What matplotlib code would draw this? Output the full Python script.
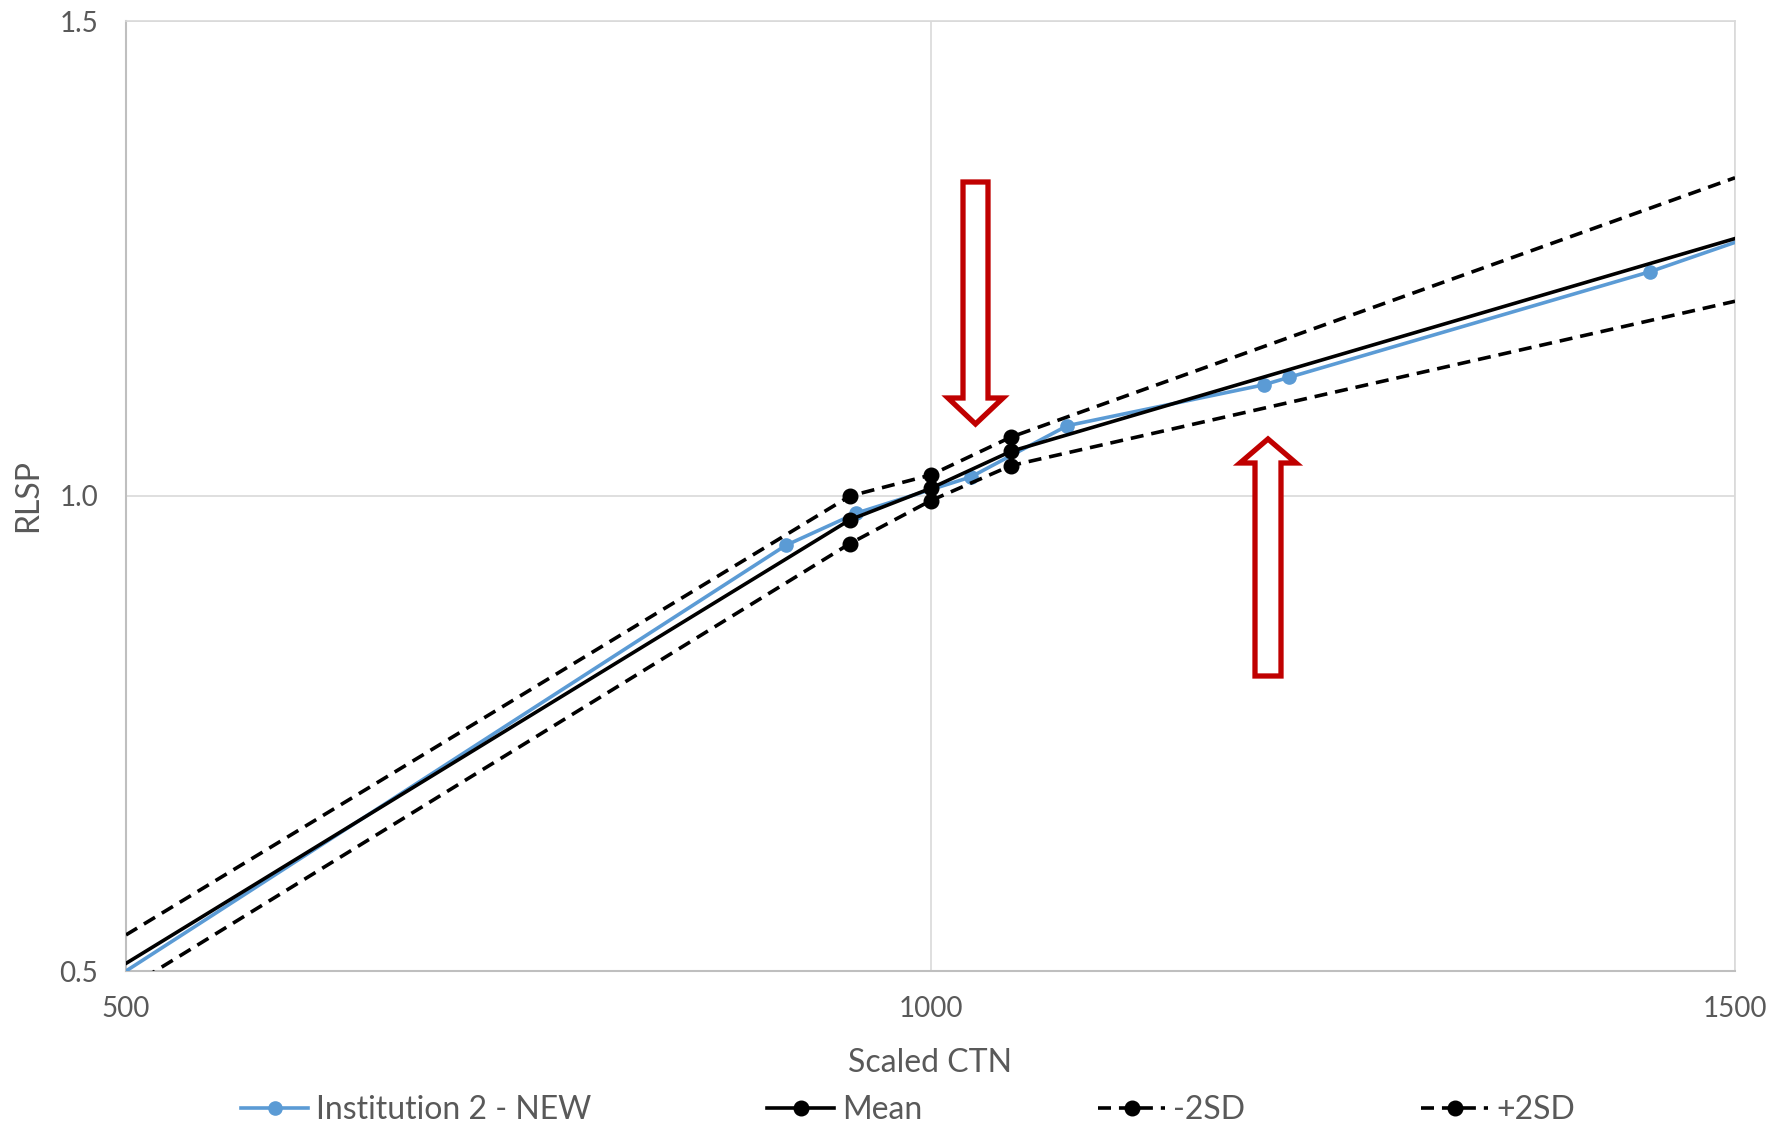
import matplotlib
matplotlib.use('Agg')
import matplotlib.pyplot as plt
from matplotlib.patches import Polygon

plt.rcParams['font.family'] = ['Lato', 'DejaVu Sans']

# data
inst_x = [500, 910, 954, 1025, 1085, 1207, 1223, 1447, 1500]
inst_y = [0.500, 0.948, 0.982, 1.020, 1.074, 1.117, 1.125, 1.236, 1.267]

ref_x = [500, 950, 1000, 1050, 1500]
mean_y = [0.508, 0.975, 1.008, 1.047, 1.271]
minus2sd_y = [0.481, 0.950, 0.995, 1.032, 1.205]
plus2sd_y = [0.538, 1.000, 1.022, 1.062, 1.335]

x_ticks = [500, 1000, 1500]
y_ticks = [0.5, 1.0, 1.5]
x_ticklabels = ['500', '1000', '1500']
y_ticklabels = ['0.5', '1.0', '1.5']

BLUE = '#5b9bd5'
BLACK = '#000000'
RED = '#c00000'
GRID = '#d9d9d9'
AXIS = '#bfbfbf'
TXT = '#595959'

W, H = 1784, 1128
fig = plt.figure(figsize=(W / 100, H / 100), dpi=100)
ax = fig.add_axes([126 / W, 1 - 971 / H, (1735 - 126) / W, (971 - 21) / H])

lw = 2.6
dash = (0, (3.6, 2.2))
ax.plot(inst_x, inst_y, color=BLUE, lw=lw, marker='o', ms=9.5,
        markevery=slice(1, -1), label='Institution 2 - NEW', zorder=3)
ax.plot(ref_x, mean_y, color=BLACK, lw=lw, marker='o', ms=10.5,
        markevery=slice(1, -1), label='Mean', zorder=4)
ax.plot(ref_x, minus2sd_y, color=BLACK, lw=lw, ls=dash, marker='o', ms=10.5,
        markevery=slice(1, -1), label='-2SD', zorder=5)
ax.plot(ref_x, plus2sd_y, color=BLACK, lw=lw, ls=dash, marker='o', ms=10.5,
        markevery=slice(1, -1), label='+2SD', zorder=6)

ax.set_xlim(500, 1500)
ax.set_ylim(0.5, 1.5)
ax.set_xticks(x_ticks)
ax.set_xticklabels(x_ticklabels)
ax.set_yticks(y_ticks)
ax.set_yticklabels(y_ticklabels)
ax.tick_params(length=0, labelsize=20, labelcolor=TXT)
ax.tick_params(axis='x', pad=18)
ax.tick_params(axis='y', pad=20)
ax.grid(True, color=GRID, lw=1.2, zorder=0)
ax.set_axisbelow(True)
for s in ['top', 'right']:
    ax.spines[s].set_color(GRID)
    ax.spines[s].set_linewidth(1.2)
for s in ['left', 'bottom']:
    ax.spines[s].set_color(AXIS)
    ax.spines[s].set_linewidth(1.5)

ax.set_xlabel('Scaled CTN', fontsize=23, color=TXT, labelpad=19)
ax.set_ylabel('RLSP', fontsize=23, color=TXT, labelpad=12)


# hollow red block arrows (pixel coords from top-left)
def block_arrow(pts):
    fpts = [(px / W, 1 - py / H) for px, py in pts]
    fig.add_artist(Polygon(fpts, closed=True, transform=fig.transFigure,
                           facecolor='white', edgecolor=RED, lw=3.8, joinstyle='miter', zorder=10))

# down arrow
block_arrow([(963, 182), (988, 182), (988, 398), (1003, 398), (975.5, 424),
             (948, 398), (963, 398)])
# up arrow
block_arrow([(1255, 676), (1281, 676), (1281, 463), (1296, 463), (1268, 439),
             (1240, 463), (1255, 463)])

fig.legend(loc='center', bbox_to_anchor=(0.509, 1 - 1110 / H), ncol=4, frameon=False,
           fontsize=23, labelcolor=TXT, handlelength=2.1, handletextpad=0.25,
           columnspacing=5.5, borderaxespad=0)

fig.savefig('out.png', dpi=100)
